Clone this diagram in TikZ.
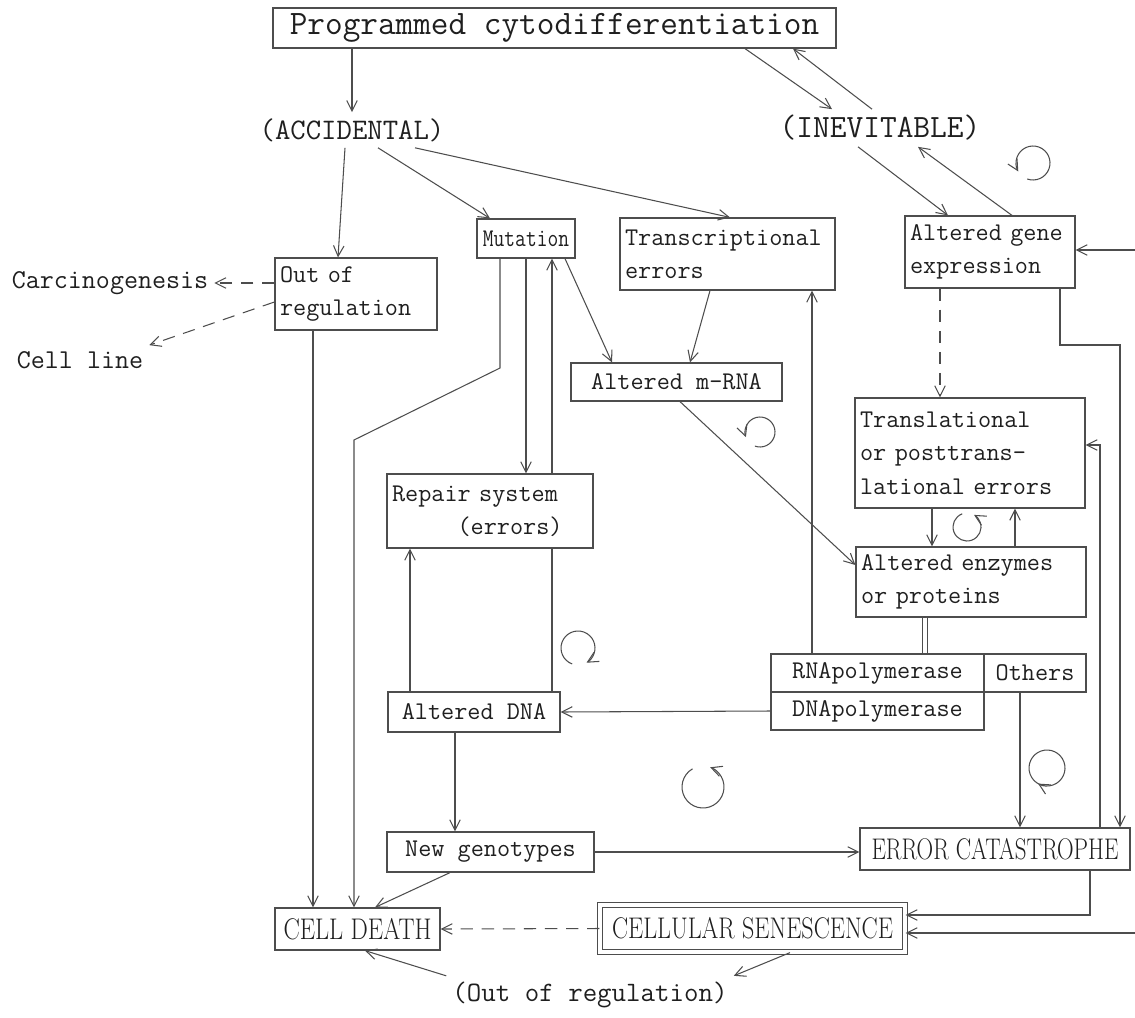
\documentclass[tikz,border=0pt]{standalone}
\usepackage{fontspec}
\usepackage{graphicx}
\usetikzlibrary{arrows.meta}
\definecolor{ink}{HTML}{1F1F1F}
\definecolor{wire}{HTML}{4D4D4D}
\newcommand\bodyfont{\fontsize{14.5}{19}\selectfont\ttfamily}
\newcommand\capsfont{\fontsize{17}{20}\selectfont\rmfamily}
\newcommand\squeeze[2]{\resizebox{#1}{\height}{#2}}
\newcommand\turn[5]{\draw[arr] (#1,#2) ++(#4:#3) arc[start angle=#4, end angle=#5, radius=#3];}
\tikzset{
  box/.style={draw=wire, line width=0.7pt, inner xsep=0.1cm, inner ysep=0.06cm, align=left},
  arr/.style={-{Straight Barb[length=6pt,width=6pt]}, draw=wire, line width=0.6pt},
  darr/.style={arr, dashed, dash pattern=on 7pt off 5pt},
  plain/.style={draw=wire, line width=0.6pt},
}
\begin{document}
\begin{tikzpicture}[x=0.02cm, y=-0.02cm, font=\bodyfont, text=ink]
\useasboundingbox (0,0) rectangle (1135,1017);

% top row
\node[box, minimum width=11.26cm, minimum height=0.8cm, font=\fontsize{19.5}{22}\selectfont\ttfamily] (prog) at (554.5,28) {Programmed cytodifferentiation};
\node[font=\fontsize{17}{20}\selectfont\ttfamily] (accid) at (352,130) {(ACCIDENTAL)};
\node[font=\fontsize{18.5}{20}\selectfont\ttfamily] (inev) at (880,128) {(INEVITABLE)};

% boxes
\node[box, minimum width=1.96cm, minimum height=0.78cm] (mut) at (526,238.5) {\scalebox{0.82}[1]{Mutation}};
\node[box, text width=4.1cm, minimum height=1.44cm] (trans) at (727.5,254) {Transcriptional\\errors};
\node[box, text width=3.2cm, minimum height=1.44cm] (gene) at (990,252) {Altered gene\\expression};
\node[box, text width=3.04cm, minimum height=1.44cm] (outreg) at (356,294) {Out of\\regulation};
\node[font=\fontsize{15.5}{19}\selectfont\ttfamily] (carc) at (110,283) {Carcinogenesis};
\node[font=\fontsize{15.5}{19}\selectfont\ttfamily] (cline) at (80,360) {Cell line};
\node[box, minimum width=4.22cm, minimum height=0.76cm] (mrna) at (676.5,382) {Altered m-RNA};
\node[box, text width=3.92cm, minimum height=1.48cm] (repair) at (490,511) {Repair system\\\hphantom{Repai}(errors)};
\node[box, text width=4.4cm, minimum height=2.2cm] (transl) at (970,453) {Translational\\or posttrans-\\lational errors};
\node[box, text width=4.4cm, minimum height=1.4cm] (enz) at (971,582) {Altered enzymes\\or proteins};
\node[box, minimum width=4.26cm, minimum height=0.76cm] (rnapol) at (877.5,673) {RNApolymerase};
\node[box, minimum width=2.04cm, minimum height=0.76cm] (others) at (1035,673) {Others};
\node[box, minimum width=4.26cm, minimum height=0.76cm] (dnapol) at (877.5,711) {DNApolymerase};
\node[box, minimum width=3.44cm, minimum height=0.8cm] (dna) at (474,712) {Altered DNA};
\node[box, minimum width=4.14cm, minimum height=0.8cm] (newgeno) at (490.5,852) {New genotypes};
\node[box, minimum width=5.4cm, minimum height=0.84cm, font=\capsfont] (ecat) at (995,849) {\squeeze{4.94cm}{ERROR CATASTROPHE}};
\node[box, minimum width=3.3cm, minimum height=0.84cm, font=\capsfont] (death) at (357.5,929) {\squeeze{2.96cm}{CELL DEATH}};
\node[box, double, double distance=2.5pt, minimum width=6.1cm, minimum height=0.94cm, font=\capsfont] (senes) at (752.5,928.5) {\squeeze{5.62cm}{CELLULAR SENESCENCE}};
\node[font=\fontsize{16}{19}\selectfont\ttfamily] (outreg2) at (590,995) {(Out of regulation)};

% connectors
\draw[arr] (prog.south -| accid.north) -- (accid.north);
\draw[arr] (prog.south -| 745,0) -- (inev.north -| 832,0);
\draw[arr] (inev.north -| 872,0) -- (prog.south -| 793,0);
\draw[arr] (inev.south -| 858,0) -- (gene.north -| 948,0);
\draw[arr] (gene.north -| 1012,0) -- (inev.south -| 918,0);
\draw[arr] (accid.south -| 345,0) -- (outreg.north -| 338,0);
\draw[arr] (accid.south -| 378,0) -- (mut.north -| 490,0);
\draw[arr] (accid.south -| 415,0) -- (trans.north -| 730,0);
\draw[darr] (outreg.west |- carc.east) -- (carc.east);
\draw[darr] (outreg.west |- 0,302) -- (cline.north east);
\draw[arr] (outreg.south -| 313,0) -- (death.north -| 313,0);
\draw[arr] (mut.south -| 500,0) -- (500,368) -- (354,440) -- (death.north -| 354,0);
\draw[arr] (mut.south -| 526,0) -- (repair.north -| 526,0);
\draw[arr] (repair.north -| 552,0) -- (mut.south -| 552,0);
\draw[plain] (dna.north -| 552,0) -- (repair.south -| 552,0);
\draw[arr] (dna.north -| 410,0) -- (repair.south -| 410,0);
\draw[arr] (mut.south -| 565,0) -- (mrna.north -| 612,0);
\draw[arr] (trans.south -| 710,0) -- (mrna.north -| 690,0);
\draw[arr] (mrna.south -| 680,0) -- (enz.west |- 0,565);
\draw[arr] (rnapol.north -| 812,0) -- (trans.south -| 812,0);
\draw[darr] (gene.south -| 940,0) -- (transl.north -| 940,0);
\draw[arr] (transl.south -| 932,0) -- (enz.north -| 932,0);
\draw[arr] (enz.north -| 1015,0) -- (transl.south -| 1015,0);
\draw[plain, double, double distance=2pt] (enz.south -| 925,0) -- (rnapol.north -| 925,0);
\draw[arr] (dnapol.west) -- (dna.east);
\draw[arr] (others.south -| 1020,0) -- (ecat.north -| 1020,0);
\draw[arr] (gene.south -| 1060,0) -- (1060,345) -- (1120,345) -- (ecat.north -| 1120,0);
\draw[arr] (ecat.north -| 1100,0) |- (transl.east |- 0,445);
\coordinate (rimA) at (1135,250);
\draw[arr] (rimA) -- (gene.east |- rimA);
\draw[arr] (dna.south -| 455,0) -- (newgeno.north -| 455,0);
\draw[arr] (newgeno.east) -- (ecat.west |- newgeno.east);
\draw[arr] (newgeno.south -| 450,0) -- (death.north -| 375,0);
\draw[arr] (ecat.south -| 1090,0) |- (senes.east |- 0,915);
\coordinate (rimB) at (1135,933);
\draw[arr] (rimB) -- (senes.east |- rimB);
\draw[darr] (senes.west) -- (death.east);
\draw[arr] (senes.south -| 790,0) -- (outreg2.north east);
\draw[arr] (outreg2.north west) -- (death.south -| 365,0);

% self loops
\turn{1033}{163}{0.34cm}{250}{570}
\turn{760}{432}{0.3cm}{250}{560}
\turn{967}{527}{0.28cm}{110}{420}
\turn{578}{648}{0.34cm}{250}{-60}
\turn{703}{787}{0.42cm}{120}{430}
\turn{1047}{768}{0.36cm}{290}{-120}
\end{tikzpicture}
\end{document}
